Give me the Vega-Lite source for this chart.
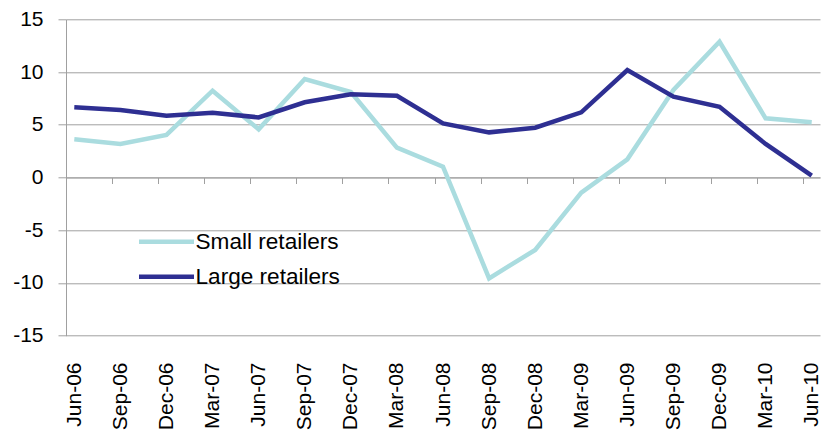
{
  "$schema": "https://vega.github.io/schema/vega-lite/v6.json",
  "autosize": {"type": "none"},
  "width": 754,
  "height": 316.4,
  "padding": {"left": 66, "top": 19.3, "right": 1, "bottom": 96.3},
  "background": "white",
  "config": {
    "view": {"stroke": null},
    "font": "Liberation Sans",
    "axis": {"labelFont": "Liberation Sans", "labelColor": "#000000", "labelFontSize": 21}
  },
  "data": {
    "values": [
      {"period": "Jun-06", "series": "Small retailers", "value": 3.62},
      {"period": "Sep-06", "series": "Small retailers", "value": 3.18},
      {"period": "Dec-06", "series": "Small retailers", "value": 4.03},
      {"period": "Mar-07", "series": "Small retailers", "value": 8.23},
      {"period": "Jun-07", "series": "Small retailers", "value": 4.57},
      {"period": "Sep-07", "series": "Small retailers", "value": 9.34},
      {"period": "Dec-07", "series": "Small retailers", "value": 8.1},
      {"period": "Mar-08", "series": "Small retailers", "value": 2.83},
      {"period": "Jun-08", "series": "Small retailers", "value": 1.02},
      {"period": "Sep-08", "series": "Small retailers", "value": -9.56},
      {"period": "Dec-08", "series": "Small retailers", "value": -6.87},
      {"period": "Mar-09", "series": "Small retailers", "value": -1.44},
      {"period": "Jun-09", "series": "Small retailers", "value": 1.72},
      {"period": "Sep-09", "series": "Small retailers", "value": 8.3},
      {"period": "Dec-09", "series": "Small retailers", "value": 12.87},
      {"period": "Mar-10", "series": "Small retailers", "value": 5.61},
      {"period": "Jun-10", "series": "Small retailers", "value": 5.23},
      {"period": "Jun-06", "series": "Large retailers", "value": 6.65},
      {"period": "Sep-06", "series": "Large retailers", "value": 6.4},
      {"period": "Dec-06", "series": "Large retailers", "value": 5.86},
      {"period": "Mar-07", "series": "Large retailers", "value": 6.14},
      {"period": "Jun-07", "series": "Large retailers", "value": 5.7},
      {"period": "Sep-07", "series": "Large retailers", "value": 7.13},
      {"period": "Dec-07", "series": "Large retailers", "value": 7.89},
      {"period": "Mar-08", "series": "Large retailers", "value": 7.75},
      {"period": "Jun-08", "series": "Large retailers", "value": 5.13},
      {"period": "Sep-08", "series": "Large retailers", "value": 4.28},
      {"period": "Dec-08", "series": "Large retailers", "value": 4.72},
      {"period": "Mar-09", "series": "Large retailers", "value": 6.18},
      {"period": "Jun-09", "series": "Large retailers", "value": 10.19},
      {"period": "Sep-09", "series": "Large retailers", "value": 7.66},
      {"period": "Dec-09", "series": "Large retailers", "value": 6.71},
      {"period": "Mar-10", "series": "Large retailers", "value": 3.18},
      {"period": "Jun-10", "series": "Large retailers", "value": 0.17}
    ]
  },
  "encoding": {
    "x": {
      "field": "period",
      "type": "ordinal",
      "sort": null,
      "scale": {"type": "point", "padding": 0.18},
      "axis": {
        "title": null,
        "orient": "bottom",
        "offset": -158.2,
        "labelAngle": -90,
        "domain": true,
        "domainColor": "#a0a0a0",
        "domainWidth": 1,
        "ticks": true,
        "tickColor": "#a0a0a0",
        "tickSize": 6,
        "tickOffset": -8.5,
        "labelOffset": 8.5,
        "labelPadding": 178.5,
        "grid": false
      }
    },
    "y": {
      "field": "value",
      "type": "quantitative",
      "scale": {"domain": [-15, 15], "nice": false, "zero": false},
      "axis": {
        "title": null,
        "values": [-15, -10, -5, 0, 5, 10, 15],
        "labelExpr": "'' + datum.value",
        "grid": true,
        "gridColor": "#a0a0a0",
        "gridWidth": 1,
        "domain": true,
        "domainColor": "#a0a0a0",
        "tickColor": "#a0a0a0",
        "tickSize": 8,
        "labelPadding": 15
      }
    },
    "color": {
      "field": "series",
      "type": "nominal",
      "scale": {"domain": ["Small retailers", "Large retailers"], "range": ["#aadcdf", "#2e2f92"]},
      "legend": {
        "title": null,
        "orient": "none",
        "legendX": 87,
        "legendY": 209,
        "padding": 0,
        "symbolType": "M-2.5,0H2.5",
        "symbolSize": 484,
        "symbolStrokeWidth": 4.5,
        "labelOffset": 15.5,
        "labelFontSize": 22.6,
        "labelFont": "Liberation Sans",
        "labelColor": "#000000",
        "rowPadding": 9,
        "labelLimit": 300
      }
    }
  },
  "layer": [
    {
      "transform": [{"filter": "datum.series == 'Small retailers'"}],
      "mark": {"type": "line", "strokeWidth": 4.5}
    },
    {
      "transform": [{"filter": "datum.series == 'Large retailers'"}],
      "mark": {"type": "line", "strokeWidth": 4.5}
    }
  ]
}
